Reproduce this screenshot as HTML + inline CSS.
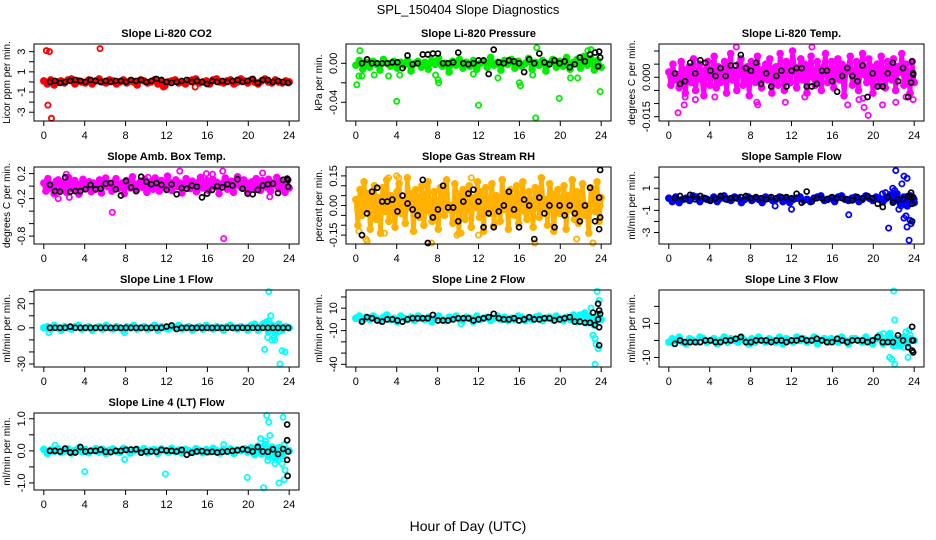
<!DOCTYPE html>
<html><head><meta charset="utf-8"><title>SPL_150404 Slope Diagnostics</title>
<style>html,body{margin:0;padding:0;background:#fff}svg{display:block;font-family:"Liberation Sans",Arial,sans-serif}</style>
</head><body>
<svg id="chart" width="936" height="540" viewBox="0 0 936 540">
<text x="468" y="14" text-anchor="middle" font-size="13">SPL_150404  Slope Diagnostics</text>
<text x="468" y="531" text-anchor="middle" font-size="14">Hour of Day (UTC)</text>
</svg>
<script>
const xTicks=[0,4,8,12,16,20,24];
// ---- CO2
const co2Reg=[0.1,-0.2,0.2,-0.3,0.0,0.1,-0.1,0.2,0.3,-0.2,0.1,0.0,-0.1,0.2,-0.2,0.1,0.3,0.0,-0.1,0.2,0.1,-0.2,0.0,0.2,-0.1,0.1,0.0,-0.3,0.2,0.1,-0.1,0.0,0.2,-0.2,0.1,-0.4,0.0,0.1,0.2,-0.1,0.0,-0.2,0.1,0.2,0.3,-0.1,0.0,0.1,-0.2,0.2,0.3,0.0,-0.1,0.1,0.2,-0.2,0.0,0.3,0.1,-0.1,0.2,0.0,-0.2,0.1,0.3,0.0,-0.1,0.2,0.0,-0.1,0.1,0.0];
const co2OutH=[0.25,0.55,0.4,0.75,5.5,11.7,14.8];
const co2OutV=[3.1,3.0,-2.3,-3.6,3.3,-0.5,-0.5];
const co2Blk=[0.0,0.1,-0.1,0.0,0.1,0.2,0.1,0.0,0.2,0.1,0.0,0.1,0.0,0.1,0.1,0.0,0.2,0.1,0.2,0.0,0.1,0.3,0.2,0.0,-0.1,0.0,0.1,0.2,0.0,0.1,0.0,-0.2,0.1,0.0,0.1,0.0,0.1,0.2,0.0,0.1,0.3,-0.1,0.2,0.2,0.0,0.1,0.0,-0.1];
const co2ExH=[],co2ExV=[];
// ---- Pressure
const prReg=[-0.002,0.003,-0.006,0.001,-0.004,0.002,-0.001,-0.007,0.004,0.000,-0.003,0.002,-0.005,0.001,-0.002,0.003,-0.008,0.000,0.002,-0.004,0.001,-0.006,0.003,-0.001,0.005,-0.003,0.000,-0.009,0.002,-0.002,0.004,-0.005,0.001,-0.003,0.003,-0.006,0.000,0.002,-0.004,0.006,-0.002,0.001,-0.007,0.003,-0.001,0.004,-0.005,0.002,-0.003,0.000,0.005,-0.006,0.001,-0.002,0.003,-0.008,0.000,0.004,-0.004,0.002,-0.003,0.006,-0.006,0.001,0.004,-0.005,0.007,-0.002,0.005,-0.007,0.003,-0.004];
const prOutH=[0.1,0.3,0.4,0.6,1.8,4.0,7.8,8.1,8.05,12.0,16.0,16.1,17.6,17.7,19.9,23.9,22.7,23.0,17.3,3.2,4.3,11.5,13.9,21.0,21.7];
const prOutV=[-0.022,-0.013,0.013,-0.013,-0.012,-0.039,-0.012,-0.02,-0.017,-0.043,-0.02,-0.023,-0.056,0.016,-0.036,-0.029,0.013,0.014,-0.012,-0.013,-0.012,-0.011,-0.015,-0.015,-0.015];
const prBlk=[0.000,0.004,0.000,0.000,0.000,0.000,0.001,0.001,-0.005,0.008,-0.001,0.000,0.009,0.009,0.010,0.010,0.000,0.000,0.001,0.011,0.000,-0.001,0.000,0.003,0.003,-0.011,0.014,0.001,0.000,0.003,0.002,0.000,-0.009,0.004,0.000,0.010,0.001,-0.001,0.003,0.000,0.002,-0.004,-0.001,0.006,0.002,0.009,0.011,0.006];
const prExH=[23.8,23.7],prExV=[0.012,-0.003];
// ---- Temp
const tpReg=[.002,-.003,.005,-.001,.001,-.004,.006,.003,-.006,.000,.004,-.002,.007,-.005,.002,.005,-.001,-.007,.003,.006,-.003,.001,.008,-.004,.004,-.002,.000,.006,-.006,.003,.009,-.001,.002,-.005,.005,.007,-.003,.001,.004,-.007,.006,.002,-.002,.008,.000,-.004,.003,.005,-.001,.007,-.006,.002,.004,-.003,.009,.001,-.005,.006,.003,-.002,.010,.004,-.004,.002,.007,-.001,.005,-.006,.003,.008,.000,-.003,.006,.002,-.005,.004,.009,-.002,.001,.006,-.004,.003,.007,-.001,.005,-.007,.002,.004,.008,-.003,.000,.006,-.005,.003,.009,.001,-.002,.007,.004,-.006,.002,.005,-.003,.008,.001,-.004,.006,.003,-.001,.007,-.005,.004,.002,.009,-.003,.005,.001,-.006,.006,-.002];
const tpOutH=[0.9,1.6,1.5,2.6,4.5,8.7,8.6,11.4,17.5,18.6,19.1,19.5,19.0,20.9,22.2,23.2,23.9,6.6,14.0,13.3];
const tpOutV=[-.0135,-.0075,-.0105,-.0085,-.0075,-.0105,-.0095,-.0095,-.0105,-.0085,-.0115,-.0145,-.008,-.0105,-.0095,-.0075,-.0085,.0115,.0115,-.0075];
const tpBlk=[.0015,-.0025,-.0015,.0055,.0015,.0065,.0055,.0025,.0005,.0035,.0005,.0045,.0045,.0085,.0035,.0025,.0055,-.0025,.0015,-.0035,.0005,.0025,-.0035,.0025,.0035,.0035,-.0035,-.0035,-.0025,.0025,.0025,-.0015,-.0055,.0005,.0035,.0005,-.0015,.0045,-.0075,.0015,-.0035,-.0035,.0015,.0055,-.0015,.0035,-.0075,.0015];
const tpExH=[23.8,23.7,23.9],tpExV=[.006,-.002,.001];
// ---- Amb box temp
const abReg=[.05,-.08,.12,-.03,.02,-.12,.08,.10,-.06,.00,.06,-.10,.14,-.04,.03,.09,-.07,-.13,.04,.11,-.02,.01,.07,-.09,.05,-.05,.00,.10,-.11,.03,.13,-.01,.02,-.08,.06,.12,-.04,.01,.05,-.12,.09,.02,-.03,.15,.00,-.06,.04,.08,-.02,.11,-.10,.03,.07,-.05,.13,.01,-.08,.09,.04,-.03,.16,.06,-.07,.02,.10,-.01,.05,-.11,.03,.12,.00,-.04,.08,.02,-.09,.06,.14,-.03,.01,.09,-.07,.04,.11,-.01,.06,-.12,.02,.05,.13,-.05,.00,.08,-.10,.03,.15,.01,-.03,.10,.06,-.09,.02,.07,-.05,.12,.01,-.07,.09,.04,-.02,.11,-.08,.05,.02,.14,-.04,.07,.01,-.10,.09,-.03];
const abOutH=[6.7,17.6,1.4,2.5,21.4,17.5,13.3,15.9,16.5,22.1,10.2,2.2];
const abOutV=[-.42,-.84,-.2,-.18,.21,.24,.24,.2,.19,-.17,.14,.19];
const abBlk=[.02,-.08,-.09,.14,-.09,-.08,-.08,-.05,.02,-.05,-.04,.04,.05,-.05,-.15,.08,-.02,-.08,.15,.07,.03,.05,.02,-.06,.03,-.13,-.03,-.04,.01,-.01,-.18,-.12,-.06,.00,-.02,.03,.01,.11,-.04,-.12,-.13,-.06,.01,.03,.04,-.11,.10,-.01];
const abExH=[23.8,23.9],abExV=[.12,.1];
// ---- Gas stream RH
const rhReg=[.03,-.1,.08,-.05,.12,-.02,.06,-.12,.01,.1,-.07,.04,-.14,.09,-.03,.13,-.08,.05,.0,-.11,.07,.11,-.04,.02,-.09,.14,-.01,.06,-.13,.08,.03,-.06,.1,-.1,.04,.12,-.03,-.08,.07,.01,-.12,.09,.05,-.05,.13,-.02,.0,-.09,.11,.06,-.14,.03,.08,-.07,.02,.1,-.11,.04,-.01,.12,-.06,.07,-.13,.09,.0,-.04,.11,-.1,.05,.03,-.08,.13,-.02,.06,-.12,.08,.01,-.05,.1,-.09,.04,.12,-.03,-.07,.07,.02,-.11,.09,.05,-.06,.14,-.01,.03,-.1,.11,.06,-.13,.04,.08,-.04,.01,.1,-.12,.05,-.02,.13,-.07,.07,-.09,.02,.11,-.05,.0,-.14,.09,.06,-.03,.12,-.08,.04];
const rhOutH=[1.0,1.1,3.2,4.0,4.2,7.4,9.9,10.3,12.0,17.5,21.6,23.2,23.9,11.3,2.8,0.3];
const rhOutV=[-.17,-.18,.14,.15,.14,-.19,-.15,-.14,-.15,-.19,-.17,-.19,.0,.14,-.14,-.13];
const rhBlk=[-.15,-.04,.07,.09,.02,.02,.03,-.03,.05,.01,-.02,-.05,.13,-.19,-.06,-.02,.10,-.01,-.01,-.08,.02,.06,.08,.02,-.11,-.04,-.11,-.03,.00,.07,-.02,-.11,.03,.00,-.17,.04,-.04,.00,-.11,.00,-.05,.00,-.04,-.08,.00,.09,-.08,-.06];
const rhExH=[23.9,23.8,23.8],rhExV=[.18,.04,-.12];
// ---- Sample flow
const sfReg=[.1,-.2,.2,-.3,.0,.1,-.1,.3,.2,-.2,.1,.0,-.1,.2,-.2,.1,.3,.0,-.1,.2,.1,-.3,.0,.2,-.1,.1,.0,-.3,.2,.1,-.1,.0,.2,-.2,.1,-.3,.0,.1,.2,-.1,.0,-.2,.1,.2,.3,-.1,.0,.1,-.2,.2,.3,.0,-.1,.1,.2,-.2,.0,.3,.1,-.1,.2,.0,-.2,.1,.4,-.2,.5,-.4,.2,-.6,.3,-.3];
const sfOutH=[21.5,22.2,22.8,23.0,23.3,23.0,23.2,23.3,23.5,23.6,23.7,17.6,12.0,10.4,21.9,22.1,22.5,22.7,21.2,20.9,23.9,24.0];
const sfOutV=[-2.6,2.6,1.4,2.1,1.9,-1.7,-1.5,-2.5,-3.7,-1.9,-2.2,-1.4,-0.9,-0.6,1.0,0.8,-0.9,-0.6,0.6,0.5,0.0,0.0];
const sfBlk=[.1,.3,.0,.4,.0,.3,.1,-.1,.1,.3,.0,.1,.1,.2,.3,.1,.2,.1,.0,.2,.1,.2,.2,.1,.5,-.3,.7,-.2,.1,.1,.0,.2,.1,.1,.0,-.1,.2,.1,.3,.1,-.4,-.7,.2,-.3,.0,.0,.3,.2];
const sfExH=[23.8,23.7,23.8,23.6],sfExV=[-2.0,.6,-.4,.2];
// ---- Line 1
const l1Reg=[0,1,-1,2,0,-2,1,0,-1,1,2,-1,0,1,-2,0,1,-1,2,0,-1,1,0,-2,1,0,2,-1,0,1,-1,0,2,-2,1,0,-1,1,0,2,-1,0,1,-2,0,1,-1,2,0,-1,1,0,-2,1,2,0,-1,1,0,-2,2,3,-2,1,4,-3,2,-4,3,-2,1,0];
const l1OutH=[22.0,21.6,22.2,22.0,21.9,22.3,22.6,23.1,23.3,23.6,21.4,22.8,23.0,0.5,7.9,21.8,22.5];
const l1OutV=[30,-18,10,6,-8,-10,-10,-30,-19,-20,3,2,-3,-4,-4,5,-8];
const l1Blk=[0,0,0,0,1,0,0,0,0,0,0,0,0,0,0,0,0,0,0,0,0,0,0,1,2,-1,0,0,0,0,0,0,0,0,0,0,0,0,0,0,0,0,0,0,0,0,0,0];
const l1ExH=[],l1ExV=[];
// ---- Line 2
const l2Reg=[1,3,-1,2,0,3,1,-1,2,4,0,1,-2,3,1,0,2,-1,3,1,0,2,-2,1,3,0,-1,2,1,3,0,-1,2,1,-2,3,0,1,2,-1,1,3,0,2,-1,1,0,3,2,-1,1,0,2,3,-1,1,2,0,3,1,-1,2,0,4,-2,3,5,-3,2,-5,4,0];
const l2OutH=[23.0,23.4,23.6,23.8,23.5,23.7,23.2,23.4,23.4,22.7,22.9,23.1,23.9,10.3,21.9,22.4];
const l2OutV=[10,-4,25,17,-22,-26,-14,-17,-40,-2,3,-1,0,-4,4,6];
const l2Blk=[-2,2,1,-1,-2,0,0,-1,-2,0,1,1,1,1,4,-1,-1,-1,0,1,1,1,-1,0,1,2,5,1,0,0,1,-1,0,2,0,0,1,1,-1,0,1,2,-2,-2,-3,-3,-5,5];
const l2ExH=[23.7,23.8,23.7,23.8,23.8,23.2],l2ExV=[14,8,0,-7,-23,6];
// ---- Line 3
const l3Reg=[-1,1,0,2,-1,-2,1,0,-1,2,1,-1,0,1,-2,0,2,-1,1,0,-1,2,0,-2,1,-1,2,0,-1,1,0,-1,2,-2,1,0,-1,2,0,1,-1,0,2,-2,0,1,-1,1,0,-1,2,0,-2,1,1,0,-1,2,0,-2,1,3,-2,0,4,-3,1,-3,2,-2,1,0];
const l3OutH=[22.0,22.1,21.8,21.6,22.1,23.4,23.2,23.5,23.6,23.0,22.6,21.0,22.4,0.5,8.0];
const l3OutV=[29,12,-11,-10,-14,-10,5,6,3,-4,-2,4,-3,-2,-2];
const l3Blk=[-2,0,-1,-1,-1,-1,0,0,-1,-1,0,0,1,2,-1,-1,0,0,0,-1,0,0,-1,0,0,1,0,0,1,0,-1,-1,1,0,-1,0,0,0,-1,0,2,-1,-1,-1,3,0,-4,0];
const l3ExH=[23.8,23.8,23.8,23.9],l3ExV=[8,0,-6,-7];
// ---- Line 4
const l4Reg=[.05,-.08,.03,-.02,.07,-.05,.0,.06,-.07,.02,.08,-.03,.04,-.06,.01,.07,-.04,.05,-.08,.02,.06,-.01,-.05,.08,.03,-.07,.0,.05,-.03,.07,-.06,.02,.04,-.08,.06,.01,-.04,.08,-.02,.03,-.07,.05,.0,-.05,.07,.02,-.06,.04,-.03,.08,.01,-.07,.05,-.02,.06,-.08,.03,.0,.07,-.04,.1,-.12,.15,-.1,.2,-.18,.12,-.25,.1,-.15,.05,.0];
const l4OutH=[4.0,11.9,19.9,21.5,21.2,21.8,22.0,22.1,21.7,21.9,22.6,23.0,23.3,23.4,23.5,23.6,23.5,22.9,23.9,7.9,1.1,17.6];
const l4OutV=[-.65,-.72,-.83,-1.15,.38,1.1,.9,.48,.3,-.3,-.4,-1.0,-.4,1.05,-.9,-.6,.2,-.3,.02,-.27,.18,.2];
const l4Blk=[0,0,-.02,.07,-.05,-.05,.12,-.02,0,0,.04,-.03,-.04,0,0,.03,.04,.05,-.06,-.02,-.02,-.03,.03,.01,0,-.02,.03,-.12,-.06,-.02,-.01,-.04,-.03,-.05,-.03,-.02,0,.02,.05,.03,-.02,.12,-.02,-.03,.05,-.1,.06,-.02];
const l4ExH=[23.8,23.8,23.8,23.85],l4ExV=[.82,.33,-.28,-.78];

const NS='http://www.w3.org/2000/svg';
const svg=document.getElementById('chart');
function mk(tag,attrs,parent){const e=document.createElementNS(NS,tag);for(const k in attrs)e.setAttribute(k,attrs[k]);(parent||svg).appendChild(e);return e;}
const colL=[34,346,659],rowT=[44,167,290,413],W=265,H=77;
const panels=[
 {slug:'co2',title:'Slope Li-820 CO2',yl:'Licor ppm per min.',c:0,r:0,ymin:-3.87,ymax:3.76,ticks:[-3,-2,-1,0,1,2,3],labs:['-3','','-1','','1','','3'],col:'#ff0000',reg:co2Reg,oh:co2OutH,ov:co2OutV,blk:co2Blk,eh:co2ExH,ev:co2ExV},
 {slug:'pressure',title:'Slope Li-820 Pressure',yl:'kPa per min.',c:1,r:0,ymin:-0.0592,ymax:0.0198,ticks:[-0.04,-0.02,0],labs:['-0.04','','0.00'],col:'#00ee00',reg:prReg,oh:prOutH,ov:prOutV,blk:prBlk,eh:prExH,ev:prExV},
 {slug:'temp',title:'Slope Li-820 Temp.',yl:'degrees C per min.',c:2,r:0,ymin:-0.01664,ymax:0.01266,ticks:[-0.015,-0.01,-0.005,0,0.005,0.01],labs:['-0.015','','','0.000','',''],col:'#ff00ff',reg:tpReg,oh:tpOutH,ov:tpOutV,blk:tpBlk,eh:tpExH,ev:tpExV},
 {slug:'amb-box-temp',title:'Slope Amb. Box Temp.',yl:'degrees C per min.',c:0,r:1,ymin:-0.926,ymax:0.306,ticks:[-0.8,-0.6,-0.4,-0.2,0,0.2],labs:['-0.8','','','-0.2','','0.2'],col:'#ff00ff',reg:abReg,oh:abOutH,ov:abOutV,blk:abBlk,eh:abExH,ev:abExV},
 {slug:'gas-stream-rh',title:'Slope Gas Stream RH',yl:'percent per min.',c:1,r:1,ymin:-0.195,ymax:0.195,ticks:[-0.15,-0.1,-0.05,0,0.05,0.1,0.15],labs:['-0.15','','','0.00','','','0.15'],col:'#ffb000',reg:rhReg,oh:rhOutH,ov:rhOutV,blk:rhBlk,eh:rhExH,ev:rhExV},
 {slug:'sample-flow',title:'Slope Sample Flow',yl:'ml/min per min.',c:2,r:1,ymin:-4.04,ymax:2.92,ticks:[-3,-2,-1,0,1,2],labs:['-3','','-1','','1',''],col:'#0000ff',reg:sfReg,oh:sfOutH,ov:sfOutV,blk:sfBlk,eh:sfExH,ev:sfExV},
 {slug:'line1-flow',title:'Slope Line 1 Flow',yl:'ml/min per min.',c:0,r:2,ymin:-32.5,ymax:31.4,ticks:[-30,-20,-10,0,10,20,30],labs:['-30','','','0','','20',''],col:'#00ffff',reg:l1Reg,oh:l1OutH,ov:l1OutV,blk:l1Blk,eh:l1ExH,ev:l1ExV},
 {slug:'line2-flow',title:'Slope Line 2 Flow',yl:'ml/min per min.',c:1,r:2,ymin:-42.4,ymax:26.2,ticks:[-40,-30,-20,-10,0,10,20],labs:['-40','','','-10','','10',''],col:'#00ffff',reg:l2Reg,oh:l2OutH,ov:l2OutV,blk:l2Blk,eh:l2ExH,ev:l2ExV},
 {slug:'line3-flow',title:'Slope Line 3 Flow',yl:'ml/min per min.',c:2,r:2,ymin:-15.6,ymax:29.6,ticks:[-10,0,10,20],labs:['-10','','10',''],col:'#00ffff',reg:l3Reg,oh:l3OutH,ov:l3OutV,blk:l3Blk,eh:l3ExH,ev:l3ExV},
 {slug:'line4-flow',title:'Slope Line 4 (LT) Flow',yl:'ml/min per min.',c:0,r:3,ymin:-1.22,ymax:1.18,ticks:[-1,-0.5,0,0.5,1],labs:['-1.0','','0.0','','1.0'],col:'#00ffff',reg:l4Reg,oh:l4OutH,ov:l4OutV,blk:l4Blk,eh:l4ExH,ev:l4ExV}
];
panels.forEach(p=>{
  const L=colL[p.c],T=rowT[p.r];
  const x0=L+W*0.04/1.08,x1=L+W-W*0.04/1.08;
  const xs=h=>x0+(h/24)*(x1-x0);
  const ys=v=>T+H-(v-p.ymin)/(p.ymax-p.ymin)*H;
  const g=mk('g',{});
  
  
  const t=mk('text',{x:L+W/2,y:T-7,'text-anchor':'middle','font-size':11,'font-weight':'bold'},g);
  
  
  t.textContent=p.title;
  const yl=mk('text',{x:0,y:0,transform:`translate(${L-24},${T+H/2}) rotate(-90)`,'text-anchor':'middle','font-size':10},g);
  
  
  yl.textContent=p.yl;
  const cg=mk('g',{fill:'none'},g);
  
  
  const n=p.reg.length;
  const pts=p.reg.map((v,i)=>xs(i*24/(n-1)).toFixed(1)+','+ys(v).toFixed(1)).join(' ');
  const dens=mk('polyline',{points:pts,stroke:p.col,'stroke-width':4.5,'stroke-linejoin':'round','stroke-linecap':'round',fill:'none'},cg);
  
  
  p.reg.forEach((v,i)=>{const c=mk('circle',{cx:xs(i*24/(n-1)),cy:ys(v),r:2.8,stroke:p.col,'stroke-width':2},cg);
    
    });
  p.oh.forEach((h,i)=>{const c=mk('circle',{cx:xs(h),cy:ys(p.ov[i]),r:2.6,stroke:p.col,'stroke-width':1.8},cg);
    
    });
  const m=p.blk.length;
  p.blk.forEach((v,i)=>{const c=mk('circle',{cx:xs(0.6+i*23.3/(m-1)),cy:ys(v),r:2.5,stroke:'#000','stroke-width':1.7},cg);
    
    });
  p.eh.forEach((h,i)=>{const c=mk('circle',{cx:xs(h),cy:ys(p.ev[i]),r:2.5,stroke:'#000','stroke-width':1.7},cg);
    
    });
  const box=mk('rect',{x:L,y:T,width:W,height:H,fill:'none',stroke:'#000','stroke-width':1},g);
  
  
  xTicks.forEach(h=>{const X=xs(h);
    const tk=mk('line',{x1:X,x2:X,y1:T+H,y2:T+H+5,stroke:'#000'},g);
    
    
    const tl=mk('text',{x:X,y:T+H+18,'text-anchor':'middle','font-size':11},g);
    
    
    tl.textContent=h;});
  p.ticks.forEach((v,i)=>{const Y=ys(v);
    const tk=mk('line',{x1:L-5,x2:L,y1:Y,y2:Y,stroke:'#000'},g);
    
    
    if(p.labs[i]){const tl=mk('text',{x:0,y:0,transform:`translate(${L-9},${Y}) rotate(-90)`,'text-anchor':'middle','font-size':11},g);
      
      
      tl.textContent=p.labs[i];}});
});
</script>
</body></html>
